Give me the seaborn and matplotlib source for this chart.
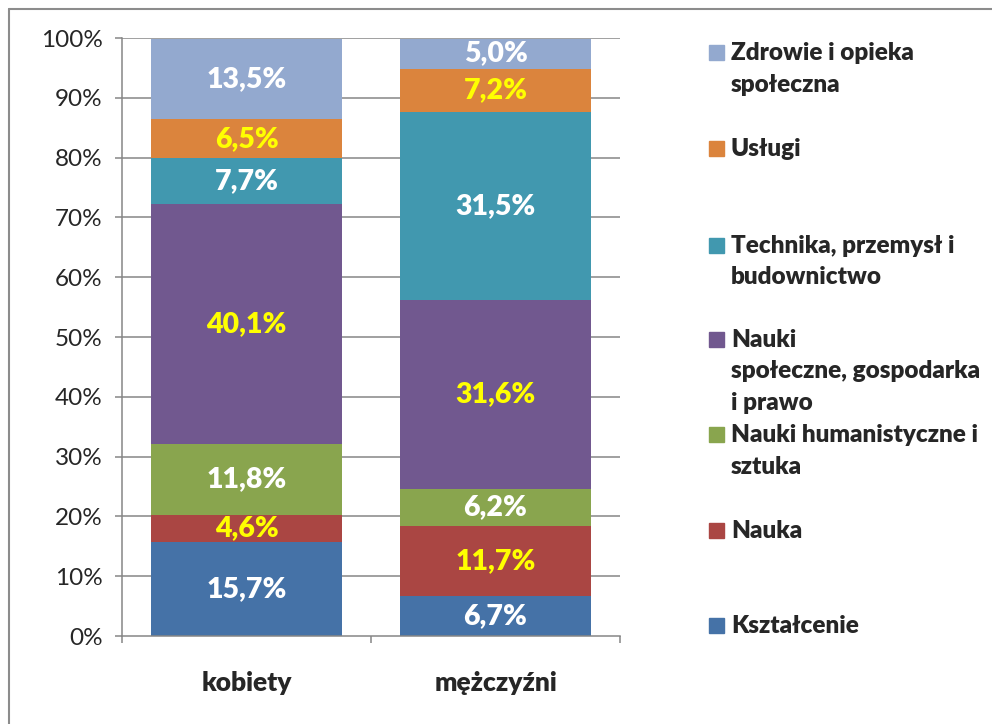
import matplotlib
matplotlib.use("Agg")
import matplotlib.pyplot as plt
from matplotlib.lines import Line2D
from matplotlib.patches import Rectangle
import pandas as pd
import seaborn as sns

# data (percent shares, bottom to top)
groups = ["kobiety", "mężczyźni"]
fields = [
    "Kształcenie",
    "Nauka",
    "Nauki humanistyczne i\nsztuka",
    "Nauki\nspołeczne, gospodarka\ni prawo",
    "Technika, przemysł i\nbudownictwo",
    "Usługi",
    "Zdrowie i opieka\nspołeczna",
]
kobiety = [15.7, 4.6, 11.8, 40.1, 7.7, 6.5, 13.5]
mezczyzni = [6.7, 11.7, 6.2, 31.6, 31.5, 7.2, 5.0]
colors = ["#4572A7", "#AA4643", "#89A54E", "#71588F", "#4198AF", "#DB843D", "#93A9CF"]
label_colors = ["white", "#FFFF00", "white", "#FFFF00", "white", "#FFFF00", "white"]

sns.set_theme(style="white")
plt.rcParams["font.family"] = ["Lato", "DejaVu Sans"]

df = pd.DataFrame({"kobiety": kobiety, "mężczyźni": mezczyzni}, index=fields)
cum = df.cumsum()

fig = plt.figure(figsize=(9.92, 7.24), dpi=100)
ax = fig.add_axes([0.123, 0.1215, 0.502, 0.826])

grid_col = "#868686"
for v in range(10, 101, 10):
    ax.axhline(v, color=grid_col, lw=1.1, zorder=0)

# stacked bars: draw cumulative tops from the top segment down
for i in range(len(fields) - 1, -1, -1):
    part = pd.DataFrame({"grupa": groups, "wartosc": cum.iloc[i].values})
    sns.barplot(data=part, x="grupa", y="wartosc", color=colors[i],
                saturation=1, width=0.77, linewidth=0, edgecolor="none",
                ax=ax, zorder=2)

for j, g in enumerate(groups):
    for i in range(len(fields)):
        val = df[g].iloc[i]
        mid = cum[g].iloc[i] - val / 2
        ax.text(j, mid, f"{val:.1f}%".replace(".", ","), ha="center", va="center",
                color=label_colors[i], fontsize=20.5, fontweight="heavy", zorder=3)

ax.set_ylim(0, 100)
ax.set_xlim(-0.5, 1.5)
ax.set_yticks(range(0, 101, 10))
ax.set_yticklabels([f"{v}%" for v in range(0, 101, 10)], fontsize=17.5)
ax.set_xlabel("")
ax.set_ylabel("")
ax.set_xticks([0, 1])
ax.set_xticklabels(groups, fontsize=19, fontweight="heavy")
ax.set_xticks([-0.5, 0.5, 1.5], minor=True)
ax.tick_params(axis="x", which="major", length=0, pad=25)
ax.tick_params(axis="x", which="minor", length=5, width=1.1, color=grid_col, direction="out", bottom=True)
ax.tick_params(axis="y", length=5, width=1.1, color=grid_col, direction="out", left=True, pad=9)
for s in ["top", "right"]:
    ax.spines[s].set_visible(False)
for s in ["left", "bottom"]:
    ax.spines[s].set_color(grid_col)
    ax.spines[s].set_linewidth(1.1)

# legend on the right, top entry first
W, H = 992, 724
baselines = [60, 156, 253, 347, 442, 538, 633]
for k, i in enumerate(range(len(fields) - 1, -1, -1)):
    y0 = baselines[k]
    fig.add_artist(Rectangle((709 / W, 1 - (y0) / H), 15 / W, 15 / H,
                             transform=fig.transFigure, color=colors[i]))
    for n, line in enumerate(fields[i].split("\n")):
        fig.text(731 / W, 1 - (y0 + n * 31.5) / H, line, fontsize=17.5,
                 fontweight="heavy", va="baseline", ha="left")

# chart frame (left and top edges visible)
fig.add_artist(Line2D([9 / W, 9 / W], [0, 1 - 9 / H], color="#8c8c8c", lw=1.5))
fig.add_artist(Line2D([9 / W, 1], [1 - 9 / H, 1 - 9 / H], color="#8c8c8c", lw=1.5))

fig.savefig("out.png", dpi=100)
